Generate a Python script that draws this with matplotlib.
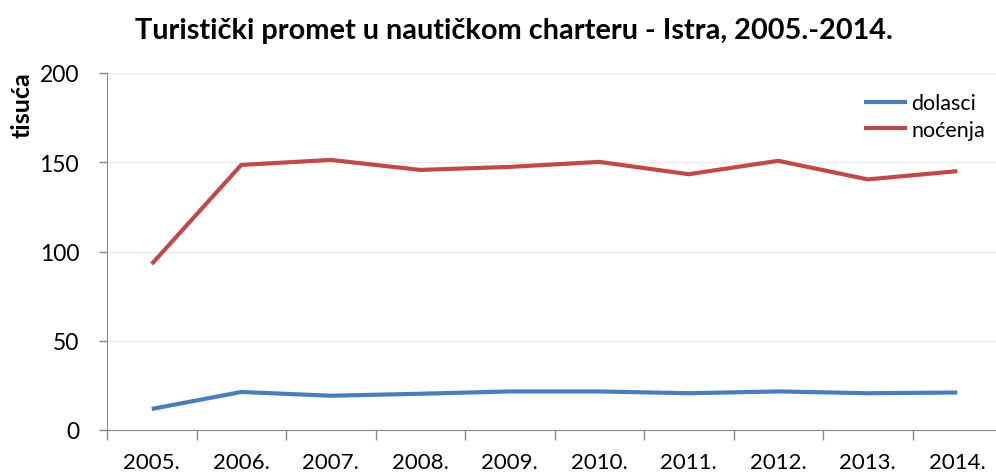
import numpy as np
import matplotlib.pyplot as plt

# Podaci (tisuće)
godine = ['2005.', '2006.', '2007.', '2008.', '2009.', '2010.', '2011.', '2012.', '2013.', '2014.']
dolasci = [11.8, 21.3, 19.2, 20.3, 21.6, 21.6, 20.6, 21.6, 20.6, 21.0]
nocenja = [93.0, 148.5, 151.3, 145.7, 147.4, 150.2, 143.3, 150.8, 140.4, 145.0]

plt.rcParams['font.family'] = ['Lato', 'DejaVu Sans']

fig = plt.figure(figsize=(9.96, 4.77), dpi=100)
# os: lijevo 107px, dolje 431px, gore 74px, desno ~1002px
ax = fig.add_axes([107/996, (477-431)/477, (1002-107)/996, (431-74)/477])

x = np.arange(len(godine))
ax.plot(x, dolasci, color='#4A7EBB', lw=3, solid_capstyle='butt', label='dolasci')
ax.plot(x, nocenja, color='#BE4B48', lw=3, solid_capstyle='butt', label='noćenja')

ax.set_xlim(-0.5, 9.5)
ax.set_ylim(0, 200)
ax.set_yticks([0, 50, 100, 150, 200])
ax.set_xticks(np.arange(-0.5, 10, 1), minor=False)
ax.set_xticklabels([])
ax.set_xticks(x, minor=True)
ax.set_xticklabels(godine, minor=True)
ax.tick_params(axis='x', which='major', length=7, color='#898989', width=1)
ax.tick_params(axis='x', which='minor', length=0, pad=16, labelsize=16, labelcolor='#000000')
ax.tick_params(axis='y', length=6, color='#898989', width=1, pad=14, labelsize=16.5)

ax.grid(axis='y', color='#EBEBEB', lw=1)
ax.set_axisbelow(True)
for s in ['top', 'right']:
    ax.spines[s].set_visible(False)
for s in ['left', 'bottom']:
    ax.spines[s].set_color('#898989')

fig.text(22/996, 1 - 105/477, 'tisuća', rotation=90, ha='center', va='center',
         fontsize=18, fontweight='bold')
fig.text(514/996, 1 - 31/477, 'Turistički promet u nautičkom charteru - Istra, 2005.-2014.',
         ha='center', va='center', fontsize=20.8, fontweight='bold')

ax.legend(loc='upper right', bbox_to_anchor=(1.003, 0.997), frameon=False, fontsize=15.5,
          handlelength=2.0, handletextpad=0.2, labelspacing=0.3)

fig.savefig('out.png', dpi=100)
